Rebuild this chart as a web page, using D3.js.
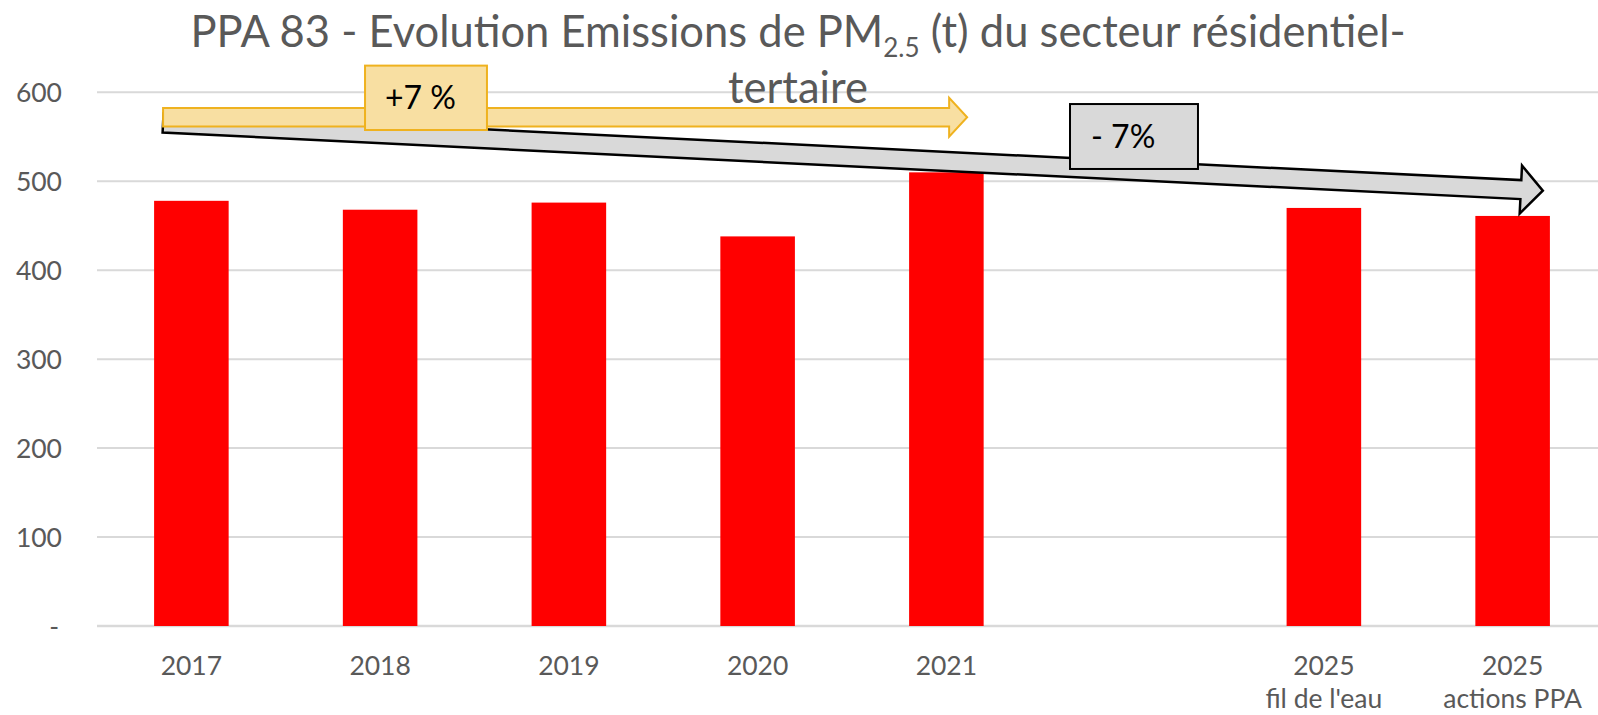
<!DOCTYPE html>
<html>
<head>
<meta charset="utf-8">
<script src="https://cdn.jsdelivr.net/npm/d3@7"></script>
<style>
  html, body { margin: 0; padding: 0; background: #fff; }
  svg { display: block; font-family: Lato, "Open Sans", sans-serif; }
</style>
</head>
<body>
<div id="chart"></div>
<script>
// data
const slots = ["2017", "2018", "2019", "2020", "2021", "gap", "2025a", "2025b"];
const slotLabels = [["2017"], ["2018"], ["2019"], ["2020"], ["2021"], [], ["2025", "fil de l'eau"], ["2025", "actions PPA"]];
const emissions = [478, 468, 476, 438, 510, null, 470, 461];
const yTicks = [0, 100, 200, 300, 400, 500, 600];
const trendLabels = ["+7 %", "- 7%"];

const width = 1598, height = 715;
const plotLeft = 97;

const svg = d3.select("#chart").append("svg")
    .attr("width", width)
    .attr("height", height);

// x: 8 slots, the right edge of the last one falls outside the picture
const x = d3.scaleBand()
    .domain(slots)
    .range([plotLeft, 1607])
    .paddingInner(0.605)
    .paddingOuter(0.3025);

const y = d3.scaleLinear().domain([0, 600]).range([626, 92.3]);

// position in "slot units" (0 = centre of first slot)
const sx = (u) => x(slots[0]) + x.bandwidth() / 2 + u * x.step();

// gridlines
svg.append("g")
    .selectAll("line")
    .data(yTicks)
    .join("line")
    .attr("x1", plotLeft)
    .attr("x2", width)
    .attr("y1", (d) => y(d))
    .attr("y2", (d) => y(d))
    .attr("stroke", "#d9d9d9")
    .attr("stroke-width", (d) => d === 0 ? 2.5 : 2);

// y labels
svg.append("g")
    .selectAll("text")
    .data(yTicks)
    .join("text")
    .attr("x", (d) => d === 0 ? 59 : 62)
    .attr("y", (d) => y(d) + 9.5)
    .attr("text-anchor", "end")
    .attr("fill", "#595959")
    .style("font-size", "26.5px")
    .text((d) => d === 0 ? "-" : d);

// bars
svg.append("g")
    .selectAll("rect")
    .data(slots.map((s, i) => ({ s, v: emissions[i] })).filter((d) => d.v !== null))
    .join("rect")
    .attr("x", (d) => x(d.s))
    .attr("width", x.bandwidth())
    .attr("y", (d) => y(d.v))
    .attr("height", (d) => y(0) - y(d.v))
    .attr("fill", "#ff0000");

// x labels
const xl = svg.append("g")
    .selectAll("text")
    .data(slots.map((s, i) => ({ s, lines: slotLabels[i] })))
    .join("text")
    .attr("text-anchor", "middle")
    .attr("fill", "#595959")
    .style("font-size", "26.5px");
xl.selectAll("tspan")
    .data((d) => d.lines.map((t) => ({ t, s: d.s })))
    .join("tspan")
    .attr("x", (d) => x(d.s) + x.bandwidth() / 2)
    .attr("y", (d, i) => 675 + i * 33)
    .text((d) => d.t);

// block arrow along a line, drawn in local coords then rotated
function blockArrow(g, from, to, shaft, head, headLen, fill, stroke, sw) {
    const x0 = sx(from[0]), y0 = y(from[1]);
    const x1 = sx(to[0]), y1 = y(to[1]);
    const len = Math.hypot(x1 - x0, y1 - y0);
    const ang = Math.atan2(y1 - y0, x1 - x0) * 180 / Math.PI;
    const b = len - headLen;
    const pts = [[0, -shaft], [b, -shaft], [b, -head], [len, 0], [b, head], [b, shaft], [0, shaft]];
    g.append("path")
        .attr("d", d3.line()(pts) + "Z")
        .attr("transform", `translate(${x0},${y0}) rotate(${ang})`)
        .attr("fill", fill)
        .attr("stroke", stroke)
        .attr("stroke-width", sw)
        .attr("stroke-linejoin", "miter");
}

const ann = svg.append("g");
// grey trend arrow 2017 -> 2025
blockArrow(ann, [-0.15, 565.5], [7.16, 489.4], 9.5, 24, 22, "#d9d9d9", "#000", 2.5);
// yellow arrow 2017 -> 2021
blockArrow(ann, [-0.15, 572], [4.11, 572], 9.3, 19.5, 18, "#f8dfa2", "#efb21f", 2);

// label boxes
function labelBox(g, u0, u1, v0, v1, txt, tx, fill, stroke, sw) {
    g.append("rect")
        .attr("x", sx(u0))
        .attr("y", y(v0))
        .attr("width", sx(u1) - sx(u0))
        .attr("height", y(v1) - y(v0))
        .attr("fill", fill)
        .attr("stroke", stroke)
        .attr("stroke-width", sw);
    g.append("text")
        .attr("x", sx(u0) + tx)
        .attr("y", (y(v0) + y(v1)) / 2 + 11.5)
        .attr("fill", "#000")
        .style("font-size", "32px")
        .text(txt);
}
labelBox(ann, 0.92, 1.566, 630, 557.6, trendLabels[0], 20, "#f8dfa2", "#efb21f", 2);
labelBox(ann, 4.655, 5.333, 586.8, 513.8, trendLabels[1], 21, "#d9d9d9", "#000", 2);

// title
const title = svg.append("text")
    .attr("text-anchor", "middle")
    .attr("fill", "#595959")
    .style("font-size", "43.5px");
const l1 = title.append("tspan").attr("x", 798).attr("y", 46.7);
l1.append("tspan").text("PPA 83 - Evolution Emissions de PM");
l1.append("tspan").attr("dy", 10).style("font-size", "26px").text("2.5");
l1.append("tspan").attr("dy", -10).text(" (t) du secteur résidentiel-");
title.append("tspan").attr("x", 798).attr("y", 103).text("tertaire");
</script>
</body>
</html>
